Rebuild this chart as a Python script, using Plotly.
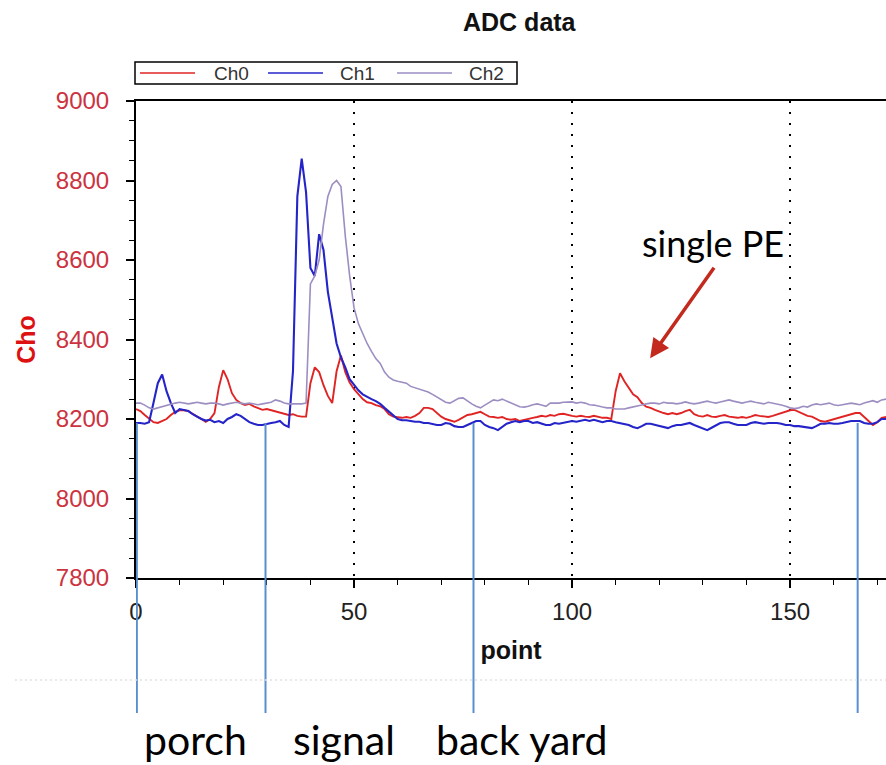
import plotly.graph_objects as go

# ---------------- data ----------------
points = list(range(173))

ch0 = [8225, 8220, 8210, 8200, 8192, 8190, 8195, 8200, 8210, 8218,
       8222, 8222, 8220, 8212, 8206, 8200, 8193, 8200, 8215, 8280,
       8323, 8300, 8265, 8248, 8240, 8235, 8238, 8232, 8228, 8223,
       8225, 8222, 8218, 8215, 8212, 8210, 8212, 8208, 8206, 8206,
       8290, 8330, 8318, 8285, 8258, 8240, 8320, 8360, 8318, 8292,
       8275, 8262, 8250, 8242, 8240, 8235, 8232, 8225, 8212, 8206,
       8205, 8203, 8205, 8203, 8208, 8215, 8228, 8228, 8225, 8215,
       8206, 8200, 8196, 8193, 8198, 8205, 8210, 8212, 8215, 8218,
       8212, 8206, 8205, 8203, 8205, 8200, 8198, 8200, 8195, 8198,
       8200, 8203, 8205, 8208, 8206, 8210, 8208, 8212, 8213, 8210,
       8208, 8206, 8208, 8206, 8205, 8208, 8205, 8203, 8203, 8200,
       8270, 8315, 8295, 8280, 8262, 8255, 8240, 8231, 8228, 8223,
       8218, 8215, 8212, 8215, 8212, 8215, 8220, 8223, 8212, 8208,
       8206, 8210, 8206, 8205, 8208, 8210, 8206, 8205, 8203, 8205,
       8203, 8206, 8210, 8208, 8206, 8205, 8208, 8212, 8215, 8218,
       8222, 8223, 8218, 8212, 8208, 8206, 8200, 8195, 8193, 8196,
       8200, 8203, 8205, 8208, 8212, 8215, 8215, 8205, 8195, 8185,
       8192, 8203, 8205]

ch1 = [8190, 8190, 8188, 8192, 8240, 8290, 8312, 8270, 8240, 8215,
       8225, 8222, 8220, 8212, 8205, 8200, 8196, 8198, 8192, 8195,
       8190, 8200, 8205, 8212, 8208, 8200, 8192, 8188, 8185, 8185,
       8188, 8190, 8192, 8195, 8185, 8180, 8320, 8760, 8855, 8770,
       8580, 8560, 8665, 8625, 8520, 8455, 8390, 8355, 8330, 8300,
       8285, 8272, 8262, 8255, 8250, 8245, 8238, 8228, 8218, 8210,
       8200, 8197, 8197, 8195, 8193, 8193, 8190, 8190, 8188, 8185,
       8185, 8190, 8188, 8182, 8180, 8180, 8185, 8190, 8195, 8195,
       8185, 8180, 8177, 8172, 8180, 8188, 8192, 8195, 8192, 8195,
       8195, 8190, 8192, 8188, 8185, 8185, 8190, 8188, 8190, 8192,
       8195, 8193, 8195, 8198, 8195, 8198, 8195, 8192, 8195, 8195,
       8192, 8190, 8188, 8185, 8180, 8177, 8182, 8188, 8188, 8185,
       8182, 8180, 8177, 8182, 8185, 8185, 8188, 8190, 8185, 8180,
       8175, 8172, 8178, 8185, 8190, 8192, 8192, 8188, 8185, 8185,
       8185, 8190, 8192, 8190, 8188, 8190, 8190, 8190, 8188, 8185,
       8185, 8182, 8182, 8180, 8178, 8177, 8182, 8188, 8188, 8190,
       8188, 8188, 8190, 8192, 8195, 8195, 8195, 8190, 8188, 8188,
       8192, 8200, 8200]

ch2 = [8240, 8240, 8235, 8228, 8225, 8228, 8232, 8235, 8238, 8240,
       8242, 8240, 8238, 8240, 8242, 8240, 8238, 8240, 8240, 8238,
       8235, 8238, 8240, 8242, 8240, 8238, 8240, 8238, 8236, 8238,
       8240, 8242, 8248, 8245, 8240, 8238, 8238, 8238, 8238, 8240,
       8540, 8560, 8600, 8690, 8760, 8790, 8800, 8785, 8660, 8560,
       8480, 8440, 8415, 8390, 8370, 8352, 8340, 8318, 8305, 8298,
       8295, 8293, 8290, 8282, 8278, 8275, 8270, 8268, 8262, 8255,
       8248, 8242, 8240, 8245, 8252, 8253, 8245, 8238, 8232, 8228,
       8235, 8242, 8248, 8246, 8250, 8245, 8240, 8235, 8231, 8230,
       8232, 8236, 8238, 8235, 8232, 8240, 8240, 8240, 8242, 8243,
       8243, 8240, 8242, 8240, 8236, 8235, 8232, 8230, 8228, 8228,
       8225, 8225, 8225, 8228, 8230, 8232, 8235, 8238, 8240, 8240,
       8238, 8242, 8240, 8240, 8238, 8240, 8243, 8240, 8238, 8240,
       8242, 8245, 8242, 8240, 8243, 8245, 8248, 8245, 8242, 8240,
       8243, 8245, 8242, 8240, 8238, 8242, 8240, 8238, 8235, 8232,
       8228, 8226, 8228, 8232, 8230, 8235, 8238, 8236, 8238, 8240,
       8236, 8234, 8236, 8238, 8240, 8238, 8236, 8240, 8244, 8246,
       8242, 8248, 8250]

series_names = ["Ch0", "Ch1", "Ch2"]
series_colors = ["#e02424", "#2424c8", "#9d8ec2"]

x_range = [0, 172]
y_range = [7800, 9000]
x_ticks = [0, 50, 100, 150]
y_ticks = [7800, 8000, 8200, 8400, 8600, 8800, 9000]

region_bounds = [0.2, 29.7, 77.4, 165.5]
region_names = ["porch", "signal", "back yard"]
pe_point = (117.9, 8353)

# ---------------- geometry helpers ----------------
W, H = 886, 765
L, R, T, B = 136, 886, 101, 578


def px(xp):
    return (xp - L) / (R - L)


def py(yp):
    return (B - yp) / (B - T)


fig = go.Figure()
for name, ys, col, w in zip(series_names, [ch0, ch1, ch2], series_colors, [1.9, 2.1, 1.6]):
    fig.add_trace(go.Scatter(x=points, y=ys, mode="lines", name=name,
                             line=dict(color=col, width=w), showlegend=False))

font = "Liberation Sans, Arial, sans-serif"
shapes = []
annotations = []

# legend box (manual, to match the original look)
shapes.append(dict(type="rect", xref="paper", yref="paper",
                   x0=px(135), x1=px(517), y0=py(84), y1=py(62),
                   line=dict(color="black", width=1.5), fillcolor="white"))
leg_line_x = [140, 268, 397]
leg_text_x = [212, 338, 467]
for i, name in enumerate(series_names):
    shapes.append(dict(type="line", xref="paper", yref="paper",
                       x0=px(leg_line_x[i]), x1=px(leg_line_x[i] + 55),
                       y0=py(73), y1=py(73),
                       line=dict(color=series_colors[i], width=1.5)))
    annotations.append(dict(text=name, xref="paper", yref="paper",
                            x=px(leg_text_x[i]), y=py(73), xanchor="left", yanchor="middle",
                            showarrow=False, font=dict(family=font, size=19, color="#333333")))

# region separator lines
top_val = 8190
for xb in region_bounds:
    shapes.append(dict(type="line", xref="x", yref="paper",
                       x0=xb, x1=xb, y0=py(713), y1=(top_val - y_range[0]) / (y_range[1] - y_range[0]),
                       line=dict(color="#5a8fcf", width=2)))

# faint dotted separator
shapes.append(dict(type="line", xref="paper", yref="paper",
                   x0=px(15), x1=px(886), y0=py(680), y1=py(680),
                   line=dict(color="#e2e2e2", width=1.5, dash="2px,3px")))

# region labels
label_cx = [195, 344, 521]
for name, cx in zip(region_names, label_cx):
    annotations.append(dict(text=name, xref="paper", yref="paper",
                            x=px(cx), y=py(739.5), xanchor="center", yanchor="middle",
                            showarrow=False, font=dict(family="Lato, sans-serif", size=41, color="black")))

# single PE label and arrow
annotations.append(dict(text="single PE", xref="paper", yref="paper",
                        x=px(713), y=py(243), xanchor="center", yanchor="middle",
                        showarrow=False, font=dict(family="Lato, sans-serif", size=36, color="black")))
annotations.append(dict(text="", x=pe_point[0], y=pe_point[1], xref="x", yref="y",
                        ax=65, ay=-92, axref="pixel", ayref="pixel",
                        showarrow=True, arrowhead=2, arrowsize=1.1, arrowwidth=3.5,
                        arrowcolor="#c3291c"))

# chart title
annotations.append(dict(text="<b>ADC data</b>", xref="paper", yref="paper",
                        x=px(520), y=py(22), xanchor="center", yanchor="middle",
                        showarrow=False, font=dict(family=font, size=25, color="#111111")))

fig.update_layout(
    width=W, height=H,
    margin=dict(l=L, r=W - R, t=T, b=H - B, pad=0),
    paper_bgcolor="white", plot_bgcolor="white",
    showlegend=False,
    shapes=shapes, annotations=annotations,
    xaxis=dict(range=x_range, tickvals=x_ticks, showline=True, linecolor="black", linewidth=2,
               mirror=True, ticks="outside", ticklen=8, tickwidth=1.5, tickcolor="black",
               minor=dict(dtick=10, tick0=0, ticks="outside", ticklen=5, tickwidth=1.3,
                          tickcolor="black", showgrid=False),
               showgrid=True, gridcolor="black", gridwidth=2, griddash="2px,9px",
               zeroline=False, ticklabelstandoff=3,
               tickfont=dict(family=font, size=24, color="#222222"),
               title=dict(text="<b>point</b>", standoff=18,
                          font=dict(family=font, size=25, color="#111111"))),
    yaxis=dict(range=y_range, tickvals=y_ticks, showline=True, linecolor="black", linewidth=2,
               ticks="outside", ticklen=8, tickwidth=1.5, tickcolor="black",
               minor=dict(dtick=50, tick0=0, ticks="outside", ticklen=5, tickwidth=1.3,
                          tickcolor="black", showgrid=False),
               showgrid=False, zeroline=False, ticklabelstandoff=12,
               tickfont=dict(family=font, size=24, color="#cc3340"),
               title=dict(text="<b>Cho</b>", standoff=13,
                          font=dict(family=font, size=25, color="#dd1111"))),
    xaxis2=dict(overlaying="x", anchor="y", side="bottom", range=x_range, tickvals=x_ticks,
                ticks="inside", ticklen=8, tickwidth=1.5, tickcolor="black",
                minor=dict(dtick=10, tick0=0, ticks="inside", ticklen=5, tickwidth=1.3,
                           tickcolor="black", showgrid=False),
                showticklabels=False, showgrid=False, zeroline=False, showline=False),
    yaxis2=dict(overlaying="y", anchor="x", side="left", range=y_range, tickvals=y_ticks,
                ticks="inside", ticklen=8, tickwidth=1.5, tickcolor="black",
                minor=dict(dtick=50, tick0=0, ticks="inside", ticklen=5, tickwidth=1.3,
                           tickcolor="black", showgrid=False),
                showticklabels=False, showgrid=False, zeroline=False, showline=False),
)

fig.write_html("out.html", config={"displayModeBar": False},
               post_script="document.body.style.margin='0px';document.body.style.overflow='hidden';")
